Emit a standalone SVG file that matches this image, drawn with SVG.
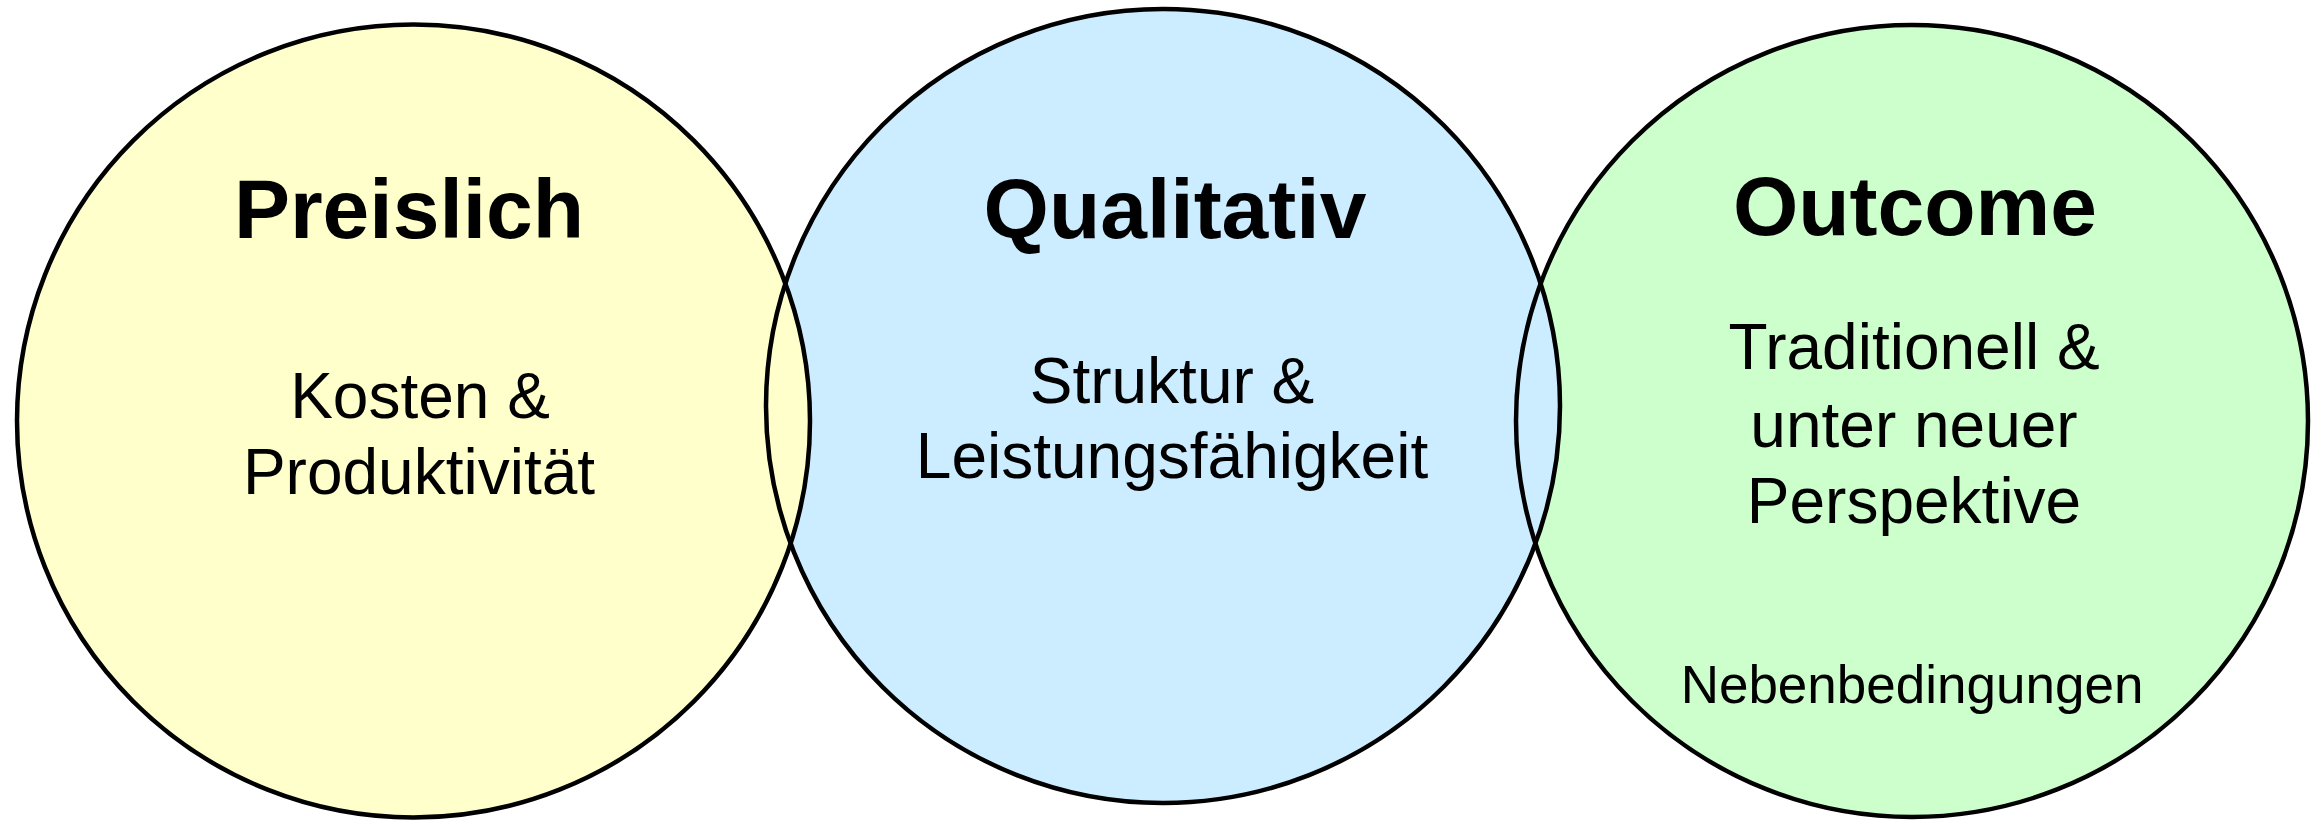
<svg xmlns="http://www.w3.org/2000/svg" width="2323" height="820" viewBox="0 0 2323 820">
<style>
.fill{stroke:none}
.ring{fill:none;stroke:#000;stroke-width:4.5}
.t{font-family:"Liberation Sans",Arial,sans-serif;fill:#000;text-anchor:middle}
.h{font-weight:bold;font-size:84px}
.b{font-size:64px}
.s{font-size:53px}
</style>
<rect width="2323" height="820" fill="#fff"/>
<g id="fills">
<circle class="fill" cx="1912" cy="421" r="396" fill="#CCFFCC"/>
<circle class="fill" cx="1163" cy="406" r="397" fill="#CCECFF"/>
<circle class="fill" cx="413.5" cy="421" r="396.5" fill="#FFFFCC"/>
</g>
<g id="connectors"></g>
<g id="preislich">
<circle class="ring" cx="413.5" cy="421" r="396.5"/>
<text class="t h" x="409" y="238">Preislich</text>
<text class="t b" x="420" y="418">Kosten &amp;</text>
<text class="t b" x="419" y="494">Produktivität</text>
</g>
<g id="qualitativ">
<circle class="ring" cx="1163" cy="406" r="397"/>
<text class="t h" x="1175" y="238">Qualitativ</text>
<text class="t b" x="1172" y="403">Struktur &amp;</text>
<text class="t b" x="1172" y="478">Leistungsfähigkeit</text>
</g>
<g id="outcome">
<circle class="ring" cx="1912" cy="421" r="396"/>
<text class="t h" x="1915" y="235">Outcome</text>
<text class="t b" x="1914" y="369">Traditionell &amp;</text>
<text class="t b" x="1914" y="447">unter neuer</text>
<text class="t b" x="1914" y="523">Perspektive</text>
<text class="t s" x="1912" y="703">Nebenbedingungen</text>
</g>
</svg>
